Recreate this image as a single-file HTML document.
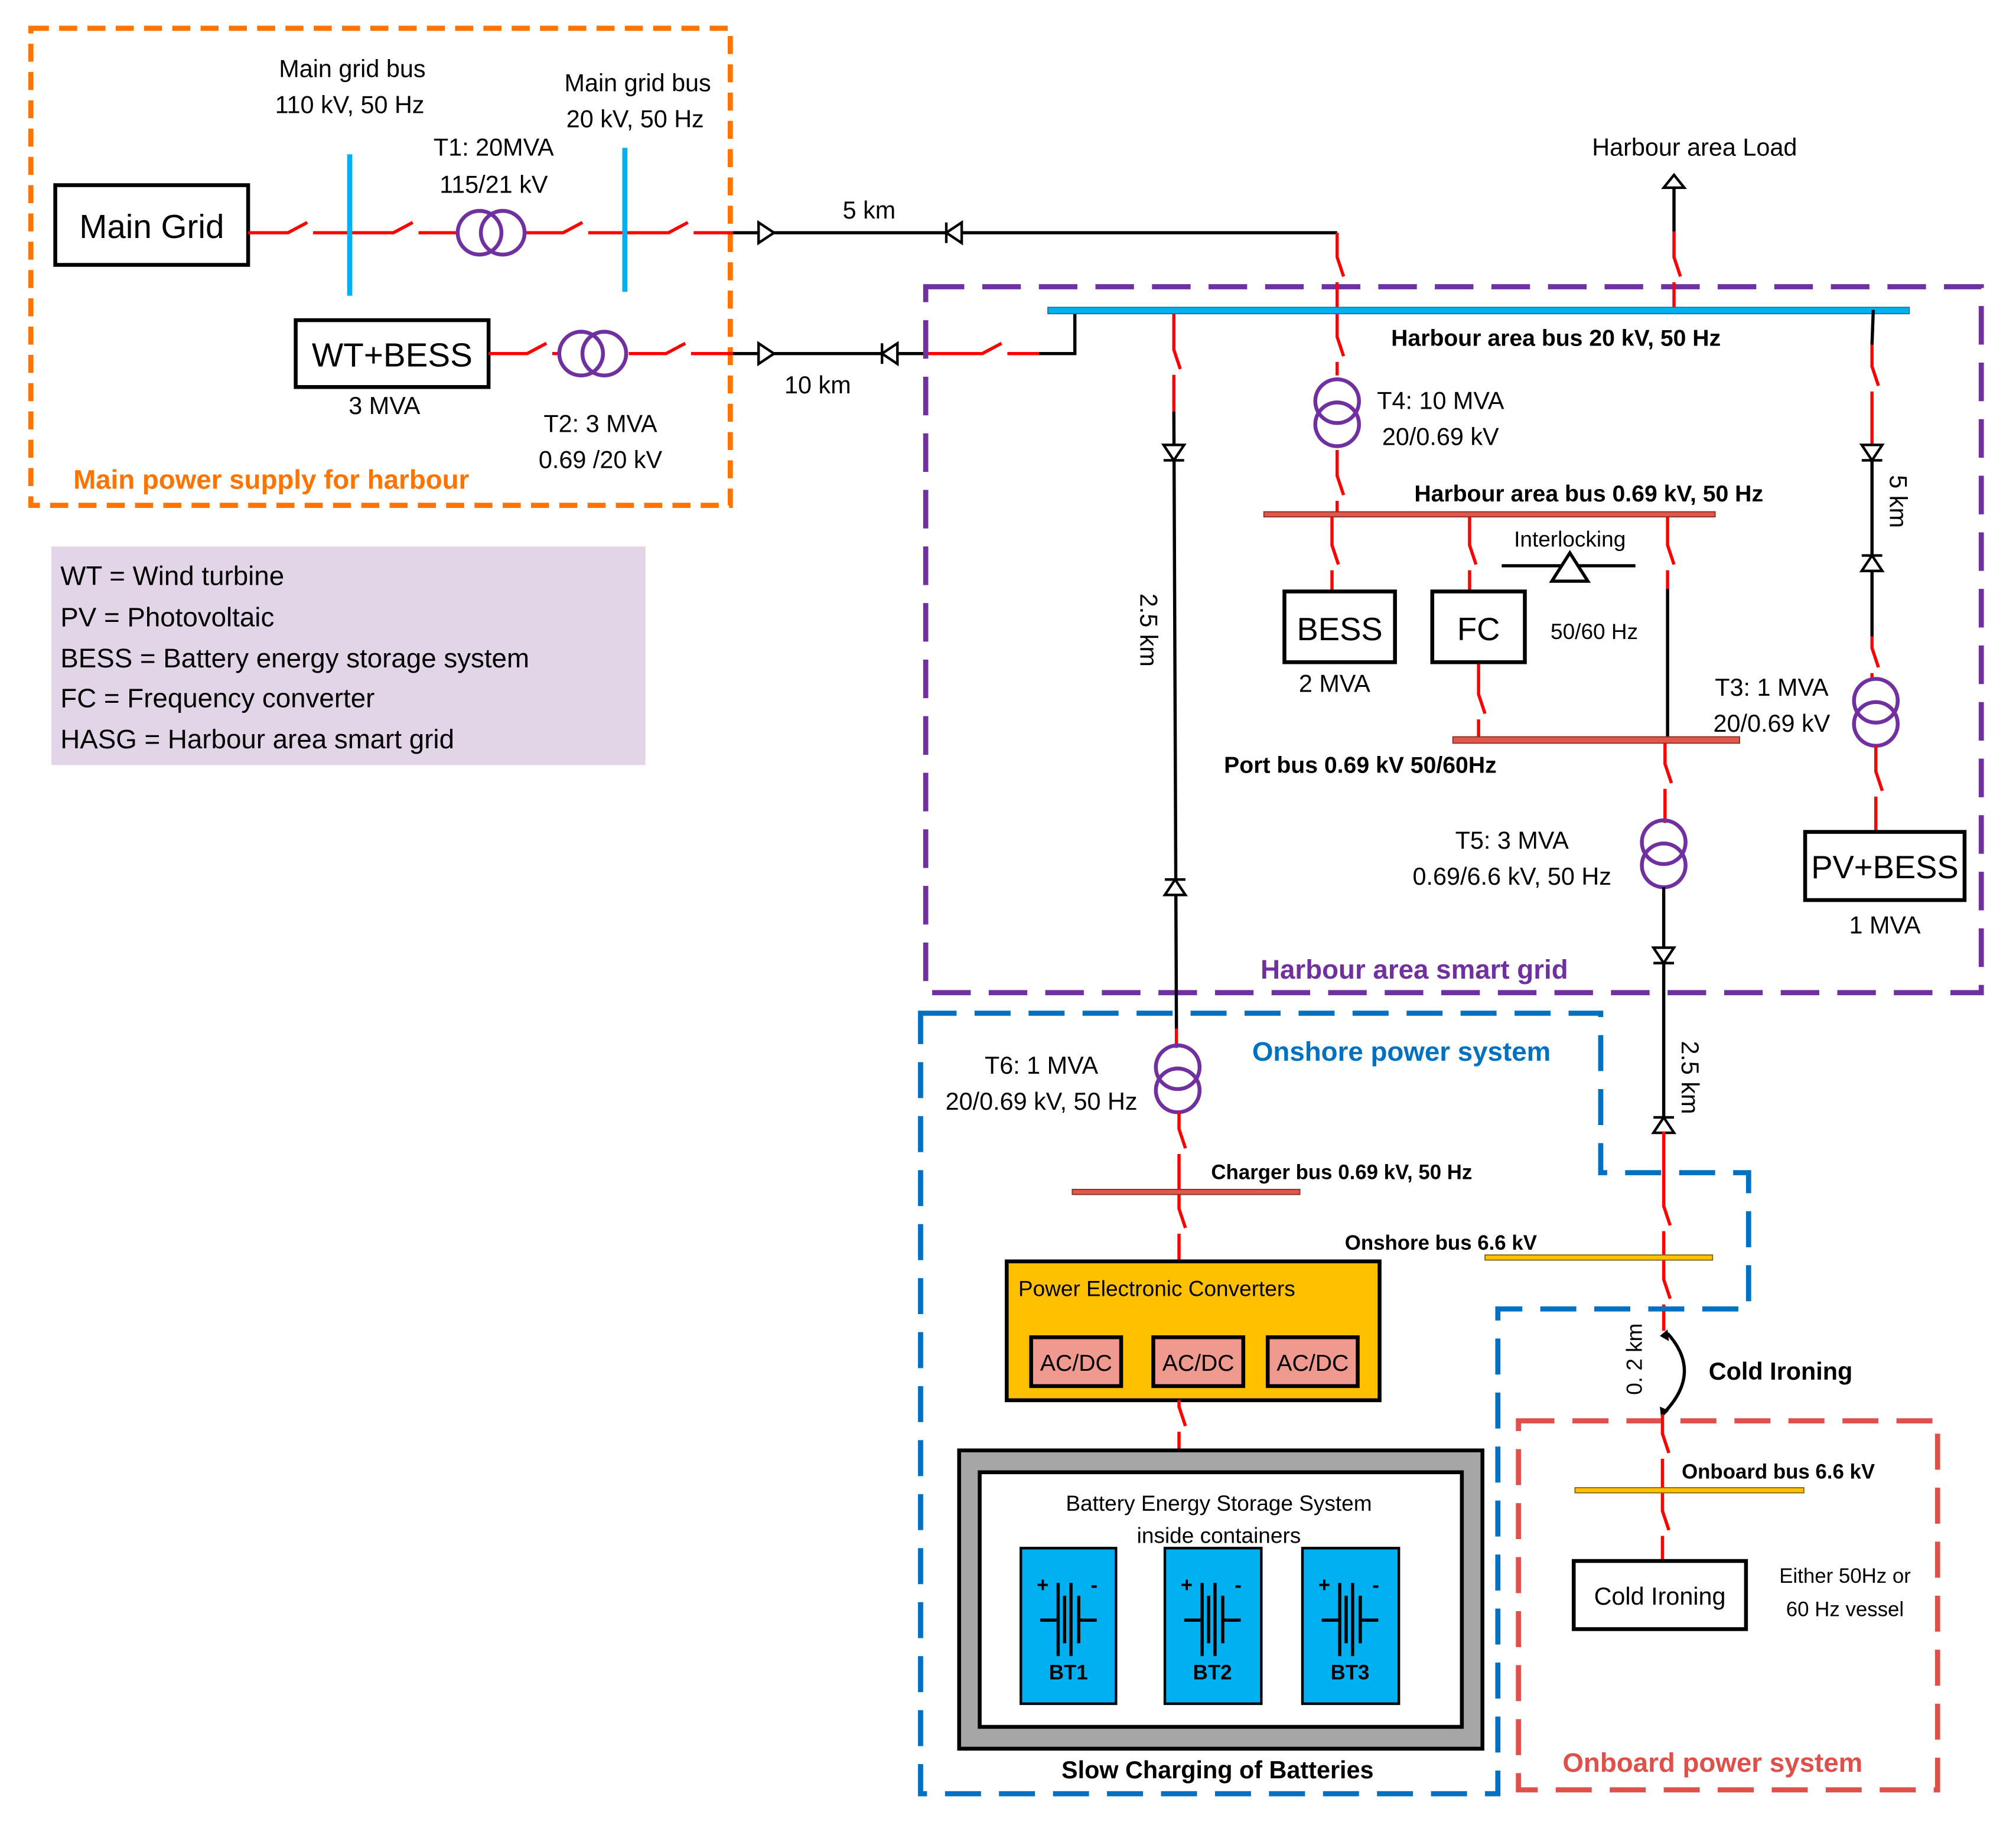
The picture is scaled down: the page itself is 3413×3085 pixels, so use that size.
<!DOCTYPE html>
<html><head><meta charset="utf-8"><style>html,body{margin:0;padding:0;background:#fff}svg{display:block}</style></head>
<body>
<svg xmlns="http://www.w3.org/2000/svg" xmlns:xlink="http://www.w3.org/1999/xlink" width="3413" height="3085" viewBox="0 0 1568 1417" preserveAspectRatio="none" font-family="Liberation Sans, sans-serif">
<defs>
<g id="hs"><rect x="0.5" y="-2.5" width="19" height="5" fill="#fff"/><line x1="0" y1="0" x2="15" y2="-8" stroke="#f00" stroke-width="2.5"/></g>
<g id="vs"><rect x="-2.5" y="0.5" width="5" height="19" fill="#fff"/><line x1="0" y1="0" x2="5" y2="15" stroke="#f00" stroke-width="2.5"/></g>
<g id="tr" fill="none" stroke="#7030a0" stroke-width="3"><circle cx="0" cy="0" r="17"/><circle cx="0" cy="18" r="17"/></g>
<g id="trh" fill="none" stroke="#7030a0" stroke-width="3"><circle cx="0" cy="0" r="17"/><circle cx="18" cy="0" r="17"/></g>
<path id="ad" d="M-8,-6 L8,-6 L0,6 Z M-8,6 L8,6" fill="#fff" stroke="#000" stroke-width="2"/>
<path id="au" d="M-8,6 L8,6 L0,-6 Z M-8,-6 L8,-6" fill="#fff" stroke="#000" stroke-width="2"/>
<path id="ar" d="M-6,-8 L-6,8 L6,0 Z" fill="#fff" stroke="#000" stroke-width="2"/>
<path id="al" d="M6,-8 L6,8 L-6,0 Z M-6,-8 L-6,8" fill="#fff" stroke="#000" stroke-width="2"/>
<g id="bat" stroke="#000" stroke-width="2.5" fill="none">
<line x1="-22" y1="34" x2="-8" y2="34"/><line x1="8" y1="34" x2="22" y2="34"/>
<line x1="-8" y1="5" x2="-8" y2="62"/><line x1="-3" y1="15" x2="-3" y2="52"/>
<line x1="2" y1="5" x2="2" y2="62"/><line x1="8" y1="15" x2="8" y2="52"/>
<text x="-20" y="12" font-size="16" font-weight="bold" fill="#000" stroke="none" text-anchor="middle">+</text>
<text x="20" y="12" font-size="16" font-weight="bold" fill="#000" stroke="none" text-anchor="middle">-</text>
</g>
</defs>

<rect x="24" y="22" width="544" height="371" fill="none" stroke="#ff7300" stroke-width="4" stroke-dasharray="14,8"/>
<text x="57" y="380" font-size="21" font-weight="bold" fill="#ff7300">Main power supply for harbour</text>
<g font-size="19" text-anchor="middle">
<text x="274" y="60">Main grid bus</text><text x="272" y="88">110 kV, 50 Hz</text>
<text x="496" y="71">Main grid bus</text><text x="494" y="99">20 kV, 50 Hz</text>
<text x="384" y="121">T1: 20MVA</text><text x="384" y="150">115/21 kV</text>
<text x="299" y="322">3 MVA</text>
<text x="467" y="336">T2: 3 MVA</text><text x="467" y="364">0.69 /20 kV</text>
<text x="636" y="306">10 km</text><text x="676" y="170">5 km</text>
</g>
<rect x="43" y="144" width="150" height="62" fill="#fff" stroke="#000" stroke-width="3"/>
<text x="118" y="185" font-size="26" text-anchor="middle">Main Grid</text>
<rect x="230" y="249" width="150" height="52" fill="#fff" stroke="#000" stroke-width="3"/>
<text x="305" y="285" font-size="26" text-anchor="middle">WT+BESS</text>

<line x1="193" y1="181" x2="570" y2="181" stroke="#f00" stroke-width="2.5"/>
<use xlink:href="#hs" x="224" y="181"/><use xlink:href="#hs" x="306" y="181"/>
<use xlink:href="#hs" x="438" y="181"/><use xlink:href="#hs" x="520" y="181"/>
<rect x="270" y="120" width="4" height="110" fill="#00b0f0"/>
<rect x="484" y="115" width="4" height="112" fill="#00b0f0"/>
<rect x="355" y="165" width="52" height="32" fill="#fff"/>
<use xlink:href="#trh" x="373" y="181"/>
<line x1="570" y1="181" x2="1040" y2="181" stroke="#000" stroke-width="2.5"/>
<use xlink:href="#ar" x="596" y="181"/><use xlink:href="#al" x="742" y="181"/>

<line x1="380" y1="275" x2="570" y2="275" stroke="#f00" stroke-width="2.5"/>
<use xlink:href="#hs" x="410" y="275"/><use xlink:href="#hs" x="518" y="275"/>
<rect x="434" y="259" width="55" height="32" fill="#fff"/>
<use xlink:href="#trh" x="452" y="275"/>
<line x1="570" y1="275" x2="720" y2="275" stroke="#000" stroke-width="2.5"/>
<use xlink:href="#ar" x="596" y="275"/><use xlink:href="#al" x="692" y="275"/>
<line x1="720" y1="275" x2="808" y2="275" stroke="#f00" stroke-width="2.5"/>
<use xlink:href="#hs" x="764" y="275"/>
<polyline points="808,275 836,275 836,241" fill="none" stroke="#000" stroke-width="2.5"/>

<rect x="40" y="425" width="462" height="170" fill="#e1d5e7"/>
<g font-size="21">
<text x="47" y="455">WT = Wind turbine</text>
<text x="47" y="487">PV = Photovoltaic</text>
<text x="47" y="519">BESS = Battery energy storage system</text>
<text x="47" y="550">FC = Frequency converter</text>
<text x="47" y="582">HASG = Harbour area smart grid</text>
</g>

<rect x="720" y="223" width="821" height="549" fill="none" stroke="#7030a0" stroke-width="4" stroke-dasharray="30,14"/>
<text x="1100" y="761" font-size="21" font-weight="bold" fill="#7030a0" text-anchor="middle">Harbour area smart grid</text>

<line x1="1302" y1="241" x2="1302" y2="180" stroke="#f00" stroke-width="2.5"/>
<use xlink:href="#vs" x="1302" y="200"/>
<line x1="1302" y1="180" x2="1302" y2="140" stroke="#000" stroke-width="2.5"/>
<path d="M1294,146 L1310,146 L1302,136 Z" fill="#fff" stroke="#000" stroke-width="2"/>
<text x="1318" y="121" font-size="19" text-anchor="middle">Harbour area  Load</text>

<line x1="1040" y1="181" x2="1040" y2="400" stroke="#f00" stroke-width="2.5"/>
<use xlink:href="#vs" x="1040" y="200"/><use xlink:href="#vs" x="1040" y="262"/><use xlink:href="#vs" x="1040" y="370"/>
<rect x="1020" y="292" width="40" height="58" fill="#fff"/>
<use xlink:href="#tr" x="1040" y="312"/>
<text x="1071" y="318" font-size="19">T4: 10 MVA</text>
<text x="1075" y="346" font-size="19">20/0.69 kV</text>

<rect x="815" y="239" width="670" height="5" fill="#00b0f0" stroke="#1a6f9a" stroke-width="0.8"/>
<text x="1082" y="269" font-size="18" font-weight="bold">Harbour area bus 20 kV, 50 Hz</text>

<line x1="1036" y1="402" x2="1036" y2="460" stroke="#f00" stroke-width="2.5"/>
<use xlink:href="#vs" x="1036" y="424"/>
<line x1="1143" y1="402" x2="1143" y2="460" stroke="#f00" stroke-width="2.5"/>
<use xlink:href="#vs" x="1143" y="424"/>
<line x1="1297" y1="402" x2="1297" y2="458" stroke="#f00" stroke-width="2.5"/>
<use xlink:href="#vs" x="1297" y="424"/>
<line x1="1297" y1="458" x2="1297" y2="575" stroke="#000" stroke-width="2.5"/>
<line x1="1150" y1="515" x2="1150" y2="575" stroke="#f00" stroke-width="2.5"/>
<use xlink:href="#vs" x="1150" y="540"/>
<rect x="983" y="398" width="351" height="4" fill="#e0574c" stroke="#8a2a22" stroke-width="0.8"/>
<text x="1100" y="390" font-size="18" font-weight="bold">Harbour area bus  0.69 kV, 50 Hz</text>
<rect x="999" y="460" width="86" height="55" fill="#fff" stroke="#000" stroke-width="3"/>
<text x="1042" y="498" font-size="25" text-anchor="middle">BESS</text>
<text x="1038" y="538" font-size="19" text-anchor="middle">2 MVA</text>
<rect x="1114" y="460" width="72" height="55" fill="#fff" stroke="#000" stroke-width="3"/>
<text x="1150" y="498" font-size="25" text-anchor="middle">FC</text>
<text x="1221" y="425" font-size="17" text-anchor="middle">Interlocking</text>
<line x1="1168" y1="440" x2="1272" y2="440" stroke="#000" stroke-width="2.5"/>
<path d="M1221,430 L1207,452 L1235,452 Z" fill="#fff" stroke="#000" stroke-width="2.5"/>
<text x="1240" y="497" font-size="17" text-anchor="middle">50/60 Hz</text>
<rect x="1130" y="573" width="223" height="5" fill="#e0574c" stroke="#8a2a22" stroke-width="0.8"/>
<text x="952" y="601" font-size="18" font-weight="bold">Port bus 0.69 kV 50/60Hz</text>

<line x1="1295" y1="578" x2="1295" y2="640" stroke="#f00" stroke-width="2.5"/>
<use xlink:href="#vs" x="1295" y="594"/>
<use xlink:href="#tr" x="1294" y="655"/>
<line x1="1294" y1="690" x2="1294" y2="880" stroke="#000" stroke-width="2.5"/>
<use xlink:href="#ad" x="1294" y="743"/><use xlink:href="#au" x="1294" y="875"/>
<text transform="translate(1308,838) rotate(90)" font-size="19" text-anchor="middle">2.5 km</text>
<text x="1176" y="660" font-size="19" text-anchor="middle">T5: 3 MVA</text>
<text x="1176" y="688" font-size="19" text-anchor="middle">0.69/6.6  kV, 50 Hz</text>
<line x1="1294" y1="880" x2="1294" y2="1035" stroke="#f00" stroke-width="2.5"/>
<use xlink:href="#vs" x="1294" y="938"/><use xlink:href="#vs" x="1294" y="995"/>

<polyline points="1457,241 1456,268" fill="none" stroke="#000" stroke-width="2.5"/>
<line x1="1456" y1="268" x2="1456" y2="345" stroke="#f00" stroke-width="2.5"/>
<use xlink:href="#vs" x="1456" y="285"/>
<line x1="1456" y1="345" x2="1456" y2="495" stroke="#000" stroke-width="2.5"/>
<use xlink:href="#ad" x="1456" y="352"/><use xlink:href="#au" x="1456" y="438"/>
<text transform="translate(1470,390) rotate(90)" font-size="19" text-anchor="middle">5 km</text>
<line x1="1456" y1="495" x2="1456" y2="528" stroke="#f00" stroke-width="2.5"/>
<use xlink:href="#vs" x="1456" y="504"/>
<use xlink:href="#tr" x="1459" y="545"/>
<line x1="1459" y1="580" x2="1459" y2="647" stroke="#f00" stroke-width="2.5"/>
<use xlink:href="#vs" x="1459" y="600"/>
<text x="1378" y="541" font-size="19" text-anchor="middle">T3: 1 MVA</text>
<text x="1378" y="569" font-size="19" text-anchor="middle">20/0.69 kV</text>
<rect x="1404" y="647" width="124" height="53" fill="#fff" stroke="#000" stroke-width="3"/>
<text x="1466" y="683" font-size="25" text-anchor="middle">PV+BESS</text>
<text x="1466" y="726" font-size="19" text-anchor="middle">1 MVA</text>

<line x1="913" y1="244" x2="913" y2="320" stroke="#f00" stroke-width="2.5"/>
<use xlink:href="#vs" x="913" y="272"/>
<line x1="913" y1="320" x2="915" y2="800" stroke="#000" stroke-width="2.5"/>
<use xlink:href="#ad" x="913" y="352"/><use xlink:href="#au" x="914" y="690"/>
<text transform="translate(887,490) rotate(90)" font-size="19" text-anchor="middle">2.5 km</text>
<line x1="915" y1="800" x2="915" y2="815" stroke="#f00" stroke-width="2.5"/>
<use xlink:href="#tr" x="916" y="830"/>
<line x1="917" y1="865" x2="917" y2="981" stroke="#f00" stroke-width="2.5"/>
<use xlink:href="#vs" x="917" y="878"/><use xlink:href="#vs" x="917" y="940"/>
<text x="810" y="835" font-size="19" text-anchor="middle">T6: 1 MVA</text>
<text x="810" y="863" font-size="19" text-anchor="middle">20/0.69 kV, 50 Hz</text>
<rect x="834" y="925" width="177" height="4" fill="#e0574c" stroke="#8a2a22" stroke-width="0.8"/>
<text x="942" y="917" font-size="16" font-weight="bold">Charger bus 0.69 kV, 50 Hz</text>

<polygon points="716,788 1245,788 1245,912 1360,912 1360,1018 1165,1018 1165,1395 716,1395" fill="none" stroke="#0070c0" stroke-width="4" stroke-dasharray="28,14"/>
<text x="1090" y="825" font-size="21" font-weight="bold" fill="#0070c0" text-anchor="middle">Onshore power system</text>
<rect x="1155" y="976" width="177" height="4" fill="#ffc000" stroke="#806000" stroke-width="0.8"/>
<text x="1046" y="972" font-size="16" font-weight="bold">Onshore bus 6.6  kV</text>

<rect x="783" y="981" width="290" height="108" fill="#ffc000" stroke="#000" stroke-width="3"/>
<text x="792" y="1008" font-size="17">Power Electronic Converters</text>
<g font-size="18" text-anchor="middle">
<rect x="802" y="1040" width="70" height="38" fill="#f0998f" stroke="#000" stroke-width="3"/><text x="837" y="1066">AC/DC</text>
<rect x="897" y="1040" width="70" height="38" fill="#f0998f" stroke="#000" stroke-width="3"/><text x="932" y="1066">AC/DC</text>
<rect x="986" y="1040" width="70" height="38" fill="#f0998f" stroke="#000" stroke-width="3"/><text x="1021" y="1066">AC/DC</text>
</g>
<line x1="917" y1="1089" x2="917" y2="1128" stroke="#f00" stroke-width="2.5"/>
<use xlink:href="#vs" x="917" y="1094"/>
<rect x="746" y="1128" width="407" height="232" fill="#a6a6a6" stroke="#000" stroke-width="3"/>
<rect x="762" y="1145" width="375" height="198" fill="#fff" stroke="#000" stroke-width="3"/>
<text x="948" y="1175" font-size="17" text-anchor="middle">Battery Energy Storage System</text>
<text x="948" y="1200" font-size="17" text-anchor="middle">inside containers</text>
<g font-size="16" font-weight="bold" text-anchor="middle">
<rect x="794" y="1204" width="74" height="121" fill="#00b0f0" stroke="#000" stroke-width="2"/>
<use xlink:href="#bat" x="831" y="1226"/><text x="831" y="1306">BT1</text>
<rect x="906" y="1204" width="75" height="121" fill="#00b0f0" stroke="#000" stroke-width="2"/>
<use xlink:href="#bat" x="943" y="1226"/><text x="943" y="1306">BT2</text>
<rect x="1013" y="1204" width="75" height="121" fill="#00b0f0" stroke="#000" stroke-width="2"/>
<use xlink:href="#bat" x="1050" y="1226"/><text x="1050" y="1306">BT3</text>
</g>
<text x="947" y="1383" font-size="19" font-weight="bold" text-anchor="middle">Slow Charging of  Batteries</text>

<path d="M1297,1037 Q1325,1068 1293,1100" fill="none" stroke="#000" stroke-width="2.5"/>
<path d="M1297,1034 l1,9 l-7,-4 Z M1292,1103 l-1,-9 l7,3 Z" fill="#000"/>
<text transform="translate(1277,1057) rotate(-90)" font-size="17" text-anchor="middle">0. 2 km</text>
<text x="1329" y="1073" font-size="19" font-weight="bold">Cold Ironing</text>

<rect x="1181" y="1105" width="326" height="287" fill="none" stroke="#e0504a" stroke-width="4" stroke-dasharray="28,14"/>
<text x="1332" y="1378" font-size="21" font-weight="bold" fill="#e0504a" text-anchor="middle">Onboard power system</text>
<line x1="1293" y1="1100" x2="1293" y2="1214" stroke="#f00" stroke-width="2.5"/>
<use xlink:href="#vs" x="1293" y="1115"/><use xlink:href="#vs" x="1293" y="1175"/>
<rect x="1225" y="1157" width="178" height="4" fill="#ffc000" stroke="#806000" stroke-width="0.8"/>
<text x="1308" y="1150" font-size="16" font-weight="bold">Onboard bus 6.6  kV</text>
<rect x="1224" y="1214" width="134" height="53" fill="#fff" stroke="#000" stroke-width="3"/>
<text x="1291" y="1248" font-size="19" text-anchor="middle">Cold Ironing</text>
<text x="1435" y="1231" font-size="16" text-anchor="middle">Either 50Hz or</text>
<text x="1435" y="1257" font-size="16" text-anchor="middle">60 Hz vessel</text>
</svg>
</body></html>
